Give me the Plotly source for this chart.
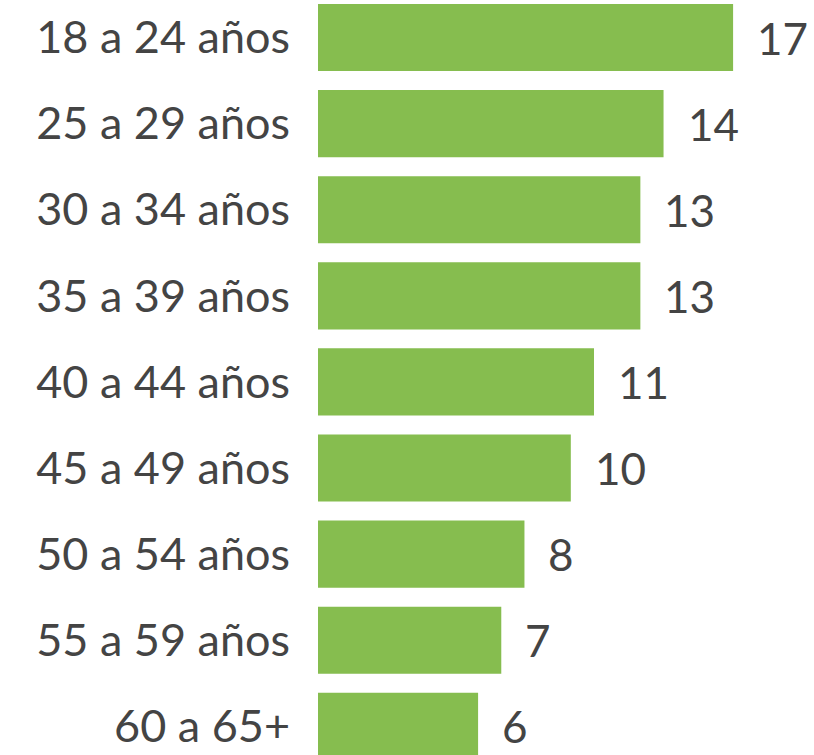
import plotly.graph_objects as go

categories = ["18 a 24 años", "25 a 29 años", "30 a 34 años", "35 a 39 años",
              "40 a 44 años", "45 a 49 años", "50 a 54 años", "55 a 59 años",
              "60 a 65+"]
values = [17, 14, 13, 13, 11, 10, 8, 7, 6]

x_min = -0.906
x_max = 20.49

bar_color = "#86bd4f"
text_color = "#444444"
font_family = "Lato, 'Open Sans', sans-serif"

fig = go.Figure(go.Bar(
    x=[v - x_min for v in values],
    y=categories,
    base=x_min,
    orientation="h",
    marker=dict(color=bar_color, line=dict(width=0)),
    width=0.78,
    hoverinfo="skip",
))

for c, v in zip(categories, values):
    fig.add_annotation(x=v, y=c, text=str(v), showarrow=False,
                       xanchor="left", xshift=22,
                       font=dict(size=44, color=text_color, family=font_family))

fig.update_layout(
    width=814, height=755,
    margin=dict(l=318, r=0, t=0, b=0),
    paper_bgcolor="white", plot_bgcolor="white",
    showlegend=False,
    hovermode=False,
    font=dict(family=font_family, color=text_color),
)
fig.update_xaxes(range=[x_min, x_max], visible=False, showgrid=False, zeroline=False)
fig.update_yaxes(range=[8.333, -0.4355], showgrid=False, zeroline=False,
                 showline=False, ticks="", ticklabelstandoff=27,
                 tickfont=dict(size=45, color=text_color, family=font_family))

fig.write_html("out.html",
               config={"displayModeBar": False, "staticPlot": True},
               post_script="document.body.style.margin='0';document.body.style.overflow='hidden';")
